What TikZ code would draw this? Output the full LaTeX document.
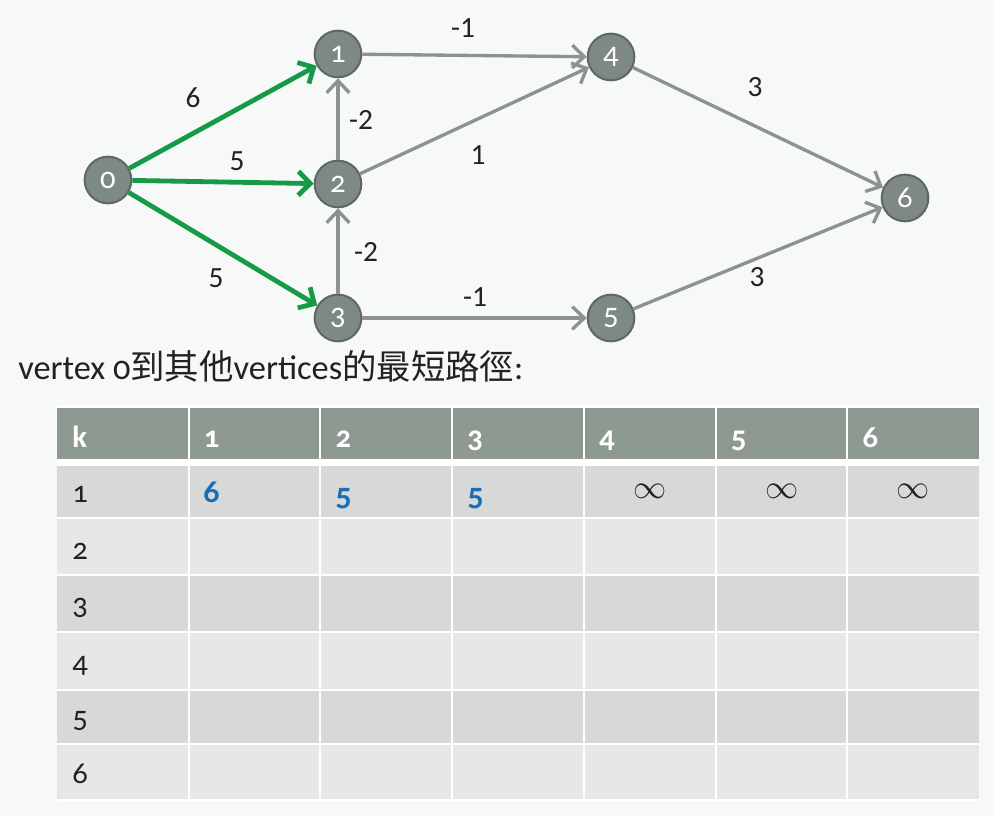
\documentclass[tikz,border=0pt]{standalone}
\usepackage{fontspec}
\setmainfont{Carlito}[Numbers=OldStyle]
\newfontfamily\linfont{Carlito}[Numbers=Lining]
\newfontfamily\cjk{Noto Sans CJK TC}
\usetikzlibrary{arrows.meta}
\definecolor{bgc}{HTML}{F7F8F8}
\definecolor{hdrc}{HTML}{8E9A91}
\definecolor{oddc}{HTML}{D6D9D8}
\definecolor{evenc}{HTML}{E6E8E8}
\definecolor{bluec}{HTML}{1B6EB5}
\definecolor{nodefill}{HTML}{7F8983}
\definecolor{nodeline}{HTML}{5E6862}
\definecolor{grayarrow}{HTML}{8C938F}
\definecolor{greenarrow}{HTML}{179A47}
\definecolor{textc}{HTML}{222222}
\tikzset{
  vtx/.style={circle, fill=nodefill, draw=nodeline, line width=1.5pt, minimum size=35pt, inner sep=0pt, text=white, font=\fontsize{23}{23}\selectfont},
  gedge/.style={draw=greenarrow, line width=3.6pt, -{Straight Barb[length=9pt,width=18pt]}},
  aedge/.style={draw=grayarrow, line width=2.5pt, -{Straight Barb[length=9pt,width=17pt]}},
  elab/.style={text=textc, font=\linfont\fontsize{22}{22}\selectfont, inner sep=0pt},
  hdrtxt/.style={anchor=base west, text=white, font=\bfseries\fontsize{23}{23}\selectfont, inner sep=0pt},
  rowtxt/.style={anchor=base west, text=textc, font=\fontsize{23}{23}\selectfont, inner sep=0pt},
  valtxt/.style={anchor=base west, text=bluec, font=\bfseries\fontsize{24}{24}\selectfont, inner sep=0pt},
  inftxt/.style={text=textc, font=\fontsize{25}{25}\selectfont, inner sep=0pt},
}
\begin{document}
\begin{tikzpicture}[x=0.75pt,y=-0.75pt]
\fill[bgc] (0,0) rectangle (994,816);
\useasboundingbox (0,0) rectangle (994,816);

% graph nodes
\node[vtx] (n0) at (108,180) {0};
\node[vtx] (n1) at (338,54) {1};
\node[vtx] (n2) at (338,184) {2};
\node[vtx] (n3) at (338,318) {3};
\node[vtx] (n4) at (611,57) {4};
\node[vtx] (n5) at (611,318) {5};
\node[vtx] (n6) at (905,198) {6};

% edges
\draw[gedge] (n0) -- (n1);
\draw[gedge] (n0) -- (n2);
\draw[gedge] (n0) -- (n3);
\draw[aedge] (n2) -- (n1);
\draw[aedge] (n3) -- (n2);
\draw[aedge] (n1) -- (n4);
\draw[aedge] (n2) -- (n4);
\draw[aedge] (n3) -- (n5);
\draw[aedge] (n4) -- (n6);
\draw[aedge] (n5) -- (n6);

% edge labels
\node[elab] (l01) at (193,98) {6};
\node[elab] (l02) at (237,161) {5};
\node[elab] (l03) at (216,278) {5};
\node[elab] (l21) at (361,120) {-2};
\node[elab] (l32) at (366,252) {-2};
\node[elab] (l14) at (463,28) {-1};
\node[elab] (l24) at (478,155) {1};
\node[elab] (l46) at (755,87) {3};
\node[elab] (l35) at (475,297) {-1};
\node[elab] (l56) at (757,277) {3};

% caption
\node[anchor=base west, inner sep=0pt, text=textc, font=\fontsize{25.8}{30}\selectfont] (cap) at (18,379) {vertex 0{\cjk 到其他}vertices{\cjk 的最短路徑}:};

% table
\def\cw{131.714}
\fill[white] (57,405) rectangle (979,801);
\foreach \i in {0,...,6} {
  \fill[hdrc] ({57+\i*\cw+(\i>0?1:0)},408) rectangle ({57+(\i+1)*\cw-(\i<6?1:0)},459);
}
\foreach \t/\b/\c in {466/517/oddc, 519/574/evenc, 576/631/oddc, 633/689/evenc, 691/743/oddc, 745/799/evenc} {
  \foreach \i in {0,...,6} {
    \fill[\c] ({57+\i*\cw+(\i>0?1:0)},\t) rectangle ({57+(\i+1)*\cw-(\i<6?1:0)},\b);
  }
}
% header text
\node[hdrtxt] (hk) at (72,447) {k};
\foreach \i in {1,...,6} {
  \node[hdrtxt] (h\i) at ({57+\i*\cw+15},447) {\i};
}
% row labels
\foreach \k/\y in {1/502, 2/559, 3/614, 4/672, 5/727, 6/783} {
  \node[rowtxt] (r\k) at (72,\y) {\k};
}
% values
\node[valtxt] (v1) at (203,502) {6};
\node[valtxt] (v2) at (335,505) {5};
\node[valtxt] (v3) at (467,505) {5};
\node[inftxt] (v4) at (650,491) {$\infty$};
\node[inftxt] (v5) at (782,491) {$\infty$};
\node[inftxt] (v6) at (913,491) {$\infty$};
\end{tikzpicture}
\end{document}
